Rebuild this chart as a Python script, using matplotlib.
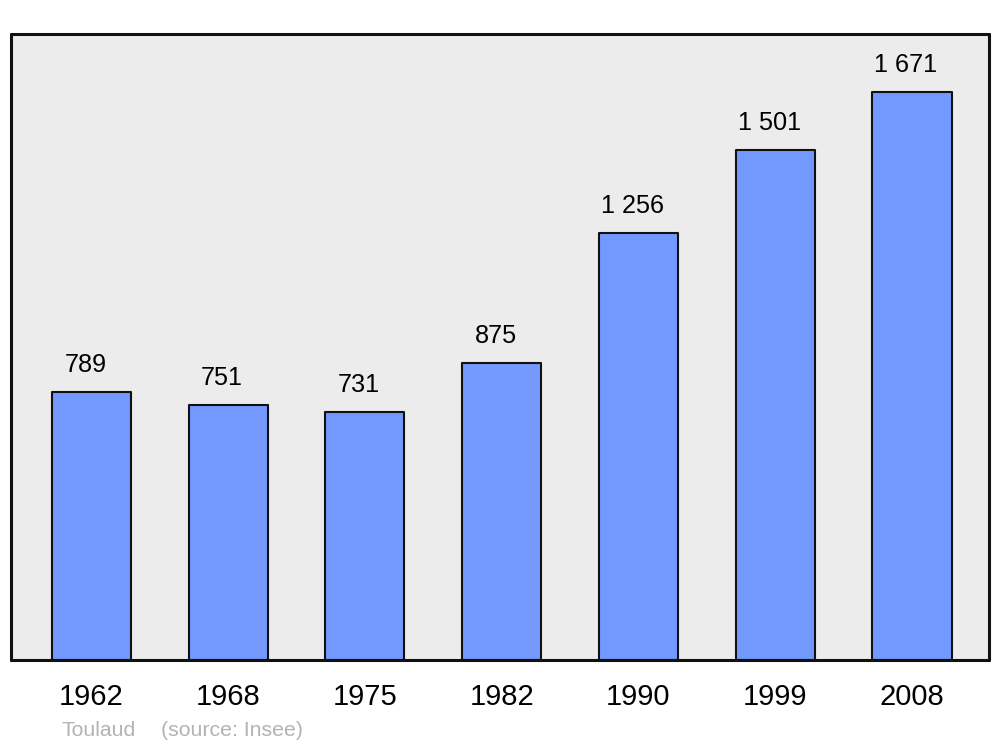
import matplotlib
matplotlib.use("Agg")
import matplotlib.pyplot as plt

years = ["1962", "1968", "1975", "1982", "1990", "1999", "2008"]
population = [789, 751, 731, 875, 1256, 1501, 1671]
value_labels = ["789", "751", "731", "875", "1 256", "1 501", "1 671"]

plt.rcParams['font.family'] = ['Liberation Sans', 'DejaVu Sans']

fig = plt.figure(figsize=(10, 7.47), dpi=100)
ax = fig.add_axes([0.011, 1 - 660/747, 0.978, (660 - 34)/747])
ax.set_facecolor('#ececec')

x = list(range(len(years)))
bars = ax.bar(x, population, width=0.578, color='#7399ff', edgecolor='#111111',
              linewidth=1.5, zorder=2)
for b in bars:
    b.set_joinstyle('round')

ax.set_xlim(-0.588, 6.563)
ax.set_ylim(0, 1842)

for xi, v, lab in zip(x, population, value_labels):
    ax.annotate(lab, (xi, v), xytext=(-4.3, 14.2), textcoords='offset points',
                ha='center', va='baseline', fontsize=18.2, color='black')

ax.set_xticks(x)
ax.set_xticklabels(years, fontsize=21)
ax.tick_params(axis='x', length=0, pad=16.5)
ax.set_yticks([])

for s in ax.spines.values():
    s.set_linewidth(2.2)
    s.set_color('#111111')
    s.set_capstyle('round')
    s.set_joinstyle('round')

fig.text(0.062, 1 - 731/747, "Toulaud", fontsize=15.3, color='#b3b3b3', va='center', ha='left')
fig.text(0.161, 1 - 731/747, "(source: Insee)", fontsize=15.3, color='#b3b3b3', va='center', ha='left')

fig.savefig("out.png", dpi=100, facecolor='white')
